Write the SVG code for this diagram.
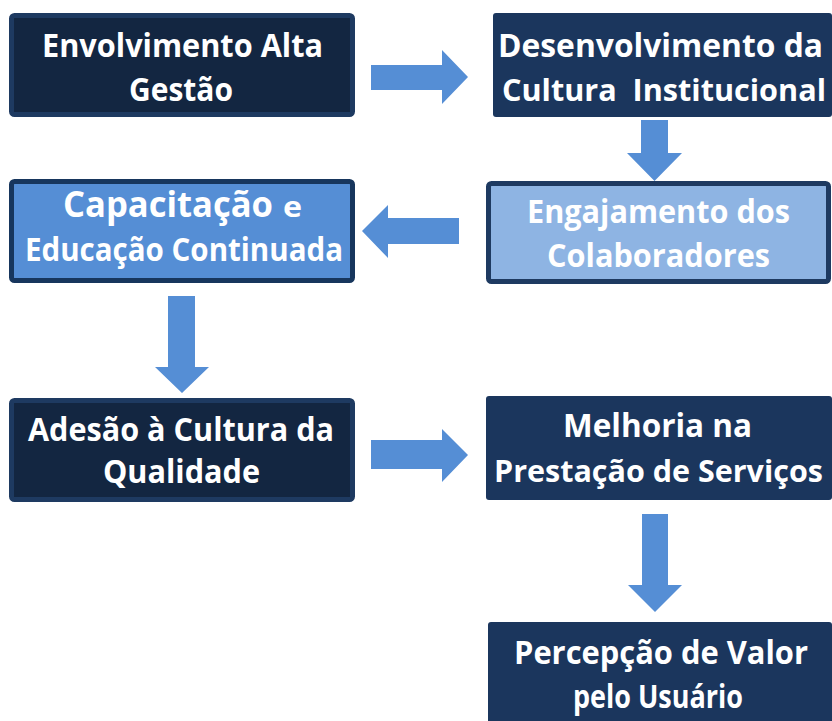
<svg xmlns="http://www.w3.org/2000/svg" width="832" height="721" viewBox="0 0 832 721">
<style>
.t{font-family:"Open Sans","Noto Sans","Liberation Sans",sans-serif;font-weight:bold;fill:#ffffff;font-size:32px}
.s{font-size:31px}
.dark{fill:#132641;stroke:#1E3A61;stroke-width:5}
.navy{fill:#1B365D}
.mid{fill:#558ED5;stroke:#17365D;stroke-width:5}
.light{fill:#8EB4E3;stroke:#1E3A61;stroke-width:5}
.arr{fill:#558ED5}
</style>
<rect width="832" height="721" fill="#ffffff"/>
<g id="connectors">
<polygon class="arr" points="371,65 442,65 442,50 468,77 442,104 442,90 371,90"/>
<polygon class="arr" points="641,120 668,120 668,153 682,153 654.5,181 627,153 641,153"/>
<polygon class="arr" points="459,218 388,218 388,205 362,231 388,258 388,244 459,244"/>
<polygon class="arr" points="168,296 195,296 195,367 209,367 182,393 155,367 168,367"/>
<polygon class="arr" points="371,440 442,440 442,429 468,455 442,482 442,469 371,469"/>
<polygon class="arr" points="642,514 668,514 668,585 682,585 655,612 628,585 642,585"/>
</g>
<g id="n1">
<rect class="dark" x="11.5" y="15.5" width="341" height="99" rx="3"/>
<text class="t" x="42" y="57" textLength="281" lengthAdjust="spacingAndGlyphs">Envolvimento Alta</text>
<text class="t" x="129" y="101" textLength="104" lengthAdjust="spacingAndGlyphs">Gestão</text>
</g>
<g id="n2">
<rect class="navy" x="493" y="13" width="339" height="104" rx="3"/>
<text class="t" x="498" y="57" textLength="325" lengthAdjust="spacingAndGlyphs">Desenvolvimento da</text>
<text class="t s" x="502" y="101" textLength="324" lengthAdjust="spacingAndGlyphs" xml:space="preserve">Cultura  Institucional</text>
</g>
<g id="n3">
<rect class="mid" x="11.5" y="181.5" width="341" height="99" rx="3"/>
<text class="t" x="63" y="217" style="font-size:36px" textLength="210" lengthAdjust="spacingAndGlyphs">Capacitação</text>
<text class="t" x="283" y="217" style="font-size:28px" textLength="19" lengthAdjust="spacingAndGlyphs">e</text>
<text class="t" x="25" y="261" textLength="318" lengthAdjust="spacingAndGlyphs">Educação Continuada</text>
</g>
<g id="n4">
<rect class="light" x="488.5" y="183.5" width="340" height="98" rx="3"/>
<text class="t" x="527" y="223" textLength="263" lengthAdjust="spacingAndGlyphs">Engajamento dos</text>
<text class="t" x="547" y="267" textLength="223" lengthAdjust="spacingAndGlyphs">Colaboradores</text>
</g>
<g id="n5">
<rect class="dark" x="11.5" y="400.5" width="341" height="99" rx="3"/>
<text class="t" x="28" y="441" textLength="306" lengthAdjust="spacingAndGlyphs">Adesão à Cultura da</text>
<text class="t" x="103" y="483" textLength="157" lengthAdjust="spacingAndGlyphs">Qualidade</text>
</g>
<g id="n6">
<rect class="navy" x="486" y="396" width="346" height="104" rx="3"/>
<text class="t" x="563" y="437" textLength="189" lengthAdjust="spacingAndGlyphs">Melhoria na</text>
<text class="t s" x="494" y="482" textLength="329" lengthAdjust="spacingAndGlyphs">Prestação de Serviços</text>
</g>
<g id="n7">
<rect class="navy" x="488" y="622" width="344" height="110" rx="3"/>
<text class="t" x="514" y="664" textLength="294" lengthAdjust="spacingAndGlyphs">Percepção de Valor</text>
<text class="t" x="573" y="708" textLength="170" lengthAdjust="spacingAndGlyphs">pelo Usuário</text>
</g>
</svg>
